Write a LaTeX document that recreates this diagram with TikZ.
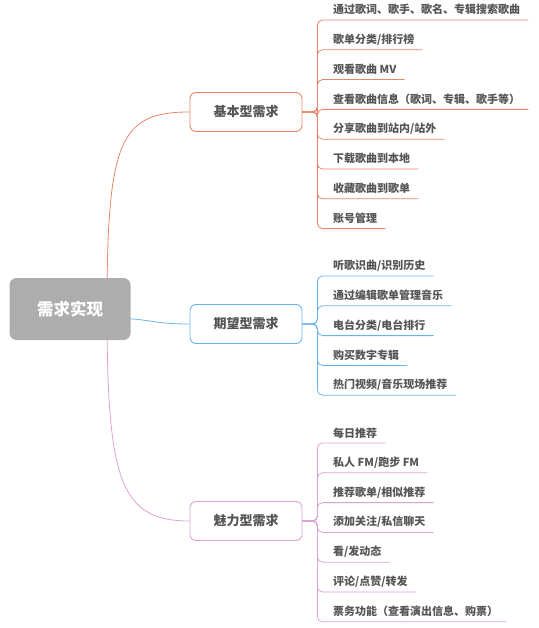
\documentclass[tikz,border=0pt]{standalone}
\usepackage{fontspec}
\setmainfont{Noto Sans CJK SC}
\usepackage{xcolor}
\usepackage{tikz}
\usetikzlibrary{positioning,backgrounds}
\definecolor{Basic}{HTML}{E8866C}
\definecolor{Expect}{HTML}{6BB3EC}
\definecolor{Charm}{HTML}{DCA2D6}
\definecolor{Ink}{HTML}{555555}
\definecolor{RootFill}{HTML}{ADADAD}

\begin{document}
\begin{tikzpicture}[x=1pt, y=-1pt,
      node distance=9.4pt,
      root/.style={fill=RootFill, rounded corners=7pt, minimum width=121pt, minimum height=62pt, text=white, font=\fontsize{16.5}{18}\selectfont\bfseries},
      cat/.style={draw=#1, fill=white, rounded corners=6pt, line width=0.9pt, minimum width=112pt, minimum height=39pt, text=Ink, font=\fontsize{13}{15}\selectfont\bfseries},
      leaf/.style={anchor=south west, inner xsep=8pt, inner ysep=0pt, minimum height=20pt, text=Ink, font=\fontsize{11}{13}\selectfont\bfseries},
      link/.style={draw=#1, line width=0.8pt, rounded corners=5pt},
      curve/.style={draw=#1, line width=0.8pt}
    ]
    \useasboundingbox (0,0) rectangle (538,628);

    \node[root] (root) at (70,309) {需求实现};
    \node[cat=Basic] (c1) at (246,112) {基本型需求};
    \node[cat=Expect] (c2) at (246,324) {期望型需求};
    \node[cat=Charm] (c3) at (246,521) {魅力型需求};

    % basic needs
    \node[leaf] (a1) at (325,20) {通过歌词、歌手、歌名、专辑搜索歌曲};
    \node[leaf, below=of a1.south west, anchor=north west] (a2) {歌单分类/排行榜};
    \node[leaf, below=of a2.south west, anchor=north west] (a3) {观看歌曲 MV};
    \node[leaf, below=of a3.south west, anchor=north west] (a4) {查看歌曲信息（歌词、专辑、歌手等）};
    \node[leaf, below=of a4.south west, anchor=north west] (a5) {分享歌曲到站内/站外};
    \node[leaf, below=of a5.south west, anchor=north west] (a6) {下载歌曲到本地};
    \node[leaf, below=of a6.south west, anchor=north west] (a7) {收藏歌曲到歌单};
    \node[leaf, below=of a7.south west, anchor=north west] (a8) {账号管理};

    % expected needs
    \node[leaf] (b1) at (325,276) {听歌识曲/识别历史};
    \node[leaf, below=of b1.south west, anchor=north west] (b2) {通过编辑歌单管理音乐};
    \node[leaf, below=of b2.south west, anchor=north west] (b3) {电台分类/电台排行};
    \node[leaf, below=of b3.south west, anchor=north west] (b4) {购买数字专辑};
    \node[leaf, below=of b4.south west, anchor=north west] (b5) {热门视频/音乐现场推荐};

    % attractive needs
    \node[leaf] (d1) at (325,443) {每日推荐};
    \node[leaf, below=of d1.south west, anchor=north west] (d2) {私人 FM/跑步 FM};
    \node[leaf, below=of d2.south west, anchor=north west] (d3) {推荐歌单/相似推荐};
    \node[leaf, below=of d3.south west, anchor=north west] (d4) {添加关注/私信聊天};
    \node[leaf, below=of d4.south west, anchor=north west] (d5) {看/发动态};
    \node[leaf, below=of d5.south west, anchor=north west] (d6) {评论/点赞/转发};
    \node[leaf, below=of d6.south west, anchor=north west] (d7) {票务功能（查看演出信息、购票）};

    \foreach \i in {1,...,8}
      \draw[link=Basic] (c1.east) -- ++(15,0) |- (a\i.south east);
    \foreach \i in {1,...,5}
      \draw[link=Expect] (c2.east) -- ++(15,0) |- (b\i.south east);
    \foreach \i in {1,...,7}
      \draw[link=Charm] (c3.east) -- ++(15,0) |- (d\i.south east);

    \begin{scope}[on background layer]
      \draw[curve=Basic] ([xshift=37pt]root.center) .. controls (107,140) and (120,112) .. (c1.west);
      \draw[curve=Expect] ([xshift=37pt,yshift=-9pt]root.center) .. controls (150,318) and (150,324) .. (c2.west);
      \draw[curve=Charm] ([xshift=37pt]root.center) .. controls (107,480) and (120,521) .. (c3.west);
    \end{scope}
  \end{tikzpicture}
\end{document}
